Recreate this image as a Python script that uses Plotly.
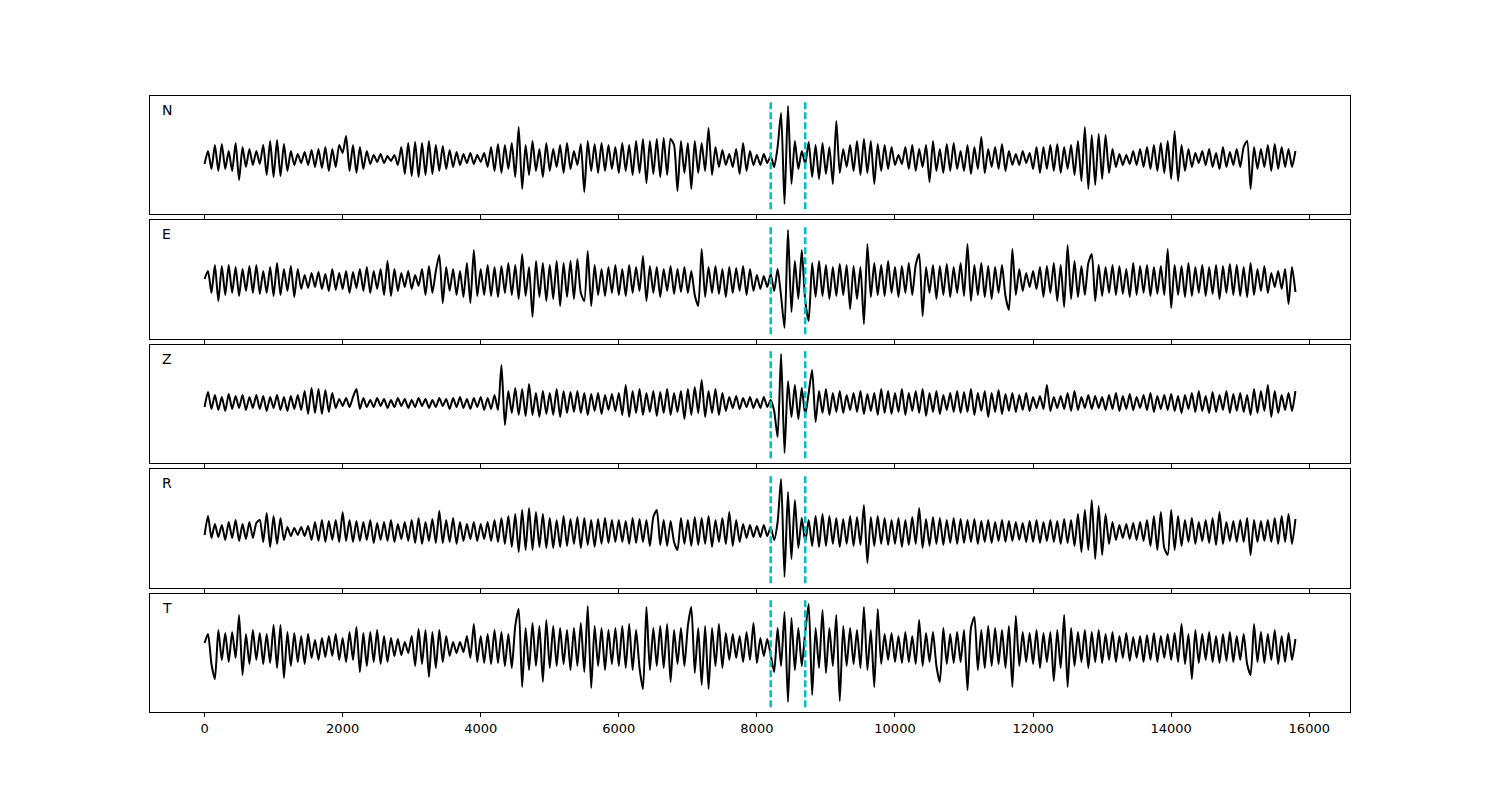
import plotly.graph_objects as go

# Five-component waveform, values (one value every 50 samples).
SAMPLE_STEP = 50
PICKS = [8200, 8700]
COMPONENTS = ["N", "E", "Z", "R", "T"]

N_TRACE = [
    -5, 8, -10, 14, -12, 15, -10, 8, -12, 16, -21, 12, -8, 10, -6, 8, -5, 14, -16, 18,
    -18, 19, -17, 15, -12, 8, -6, 5, -4, 7, -6, 9, -8, 10, -9, 12, -12, 10, -8, 14,
    6, 23, -12, 14, -14, 12, -10, 8, -5, 4, -3, 5, -4, 3, -2, 4, -6, 12, -15, 16,
    -17, 17, -18, 16, -16, 18, -15, 14, -12, 13, -10, 9, -8, 7, -6, 5, -4, 6, -5, 4,
    -3, 6, -8, 12, -12, 15, -14, 14, -10, 16, -18, 32, -30, 14, -16, 18, -12, 10, -18, 16,
    -12, 10, -8, 14, -14, 16, -10, 8, -6, 15, -33, 18, -12, 15, -14, 16, -12, 14, -10, 12,
    -14, 16, -12, 14, -16, 18, -14, 20, -24, 18, -15, 20, -18, 21, -16, 20, 14, -32, 18, -14,
    16, -30, 18, -14, 16, -12, 31, -16, 12, -8, 9, -6, 5, -8, 10, -15, 16, -12, 8, -6,
    4, -6, 5, -4, 3, -8, 12, 46, -45, 53, -25, 18, -10, 8, -5, 17, -18, 14, -20, 16,
    -15, 12, -25, 38, -14, 10, -8, 14, -12, 18, -16, 20, -14, 18, -25, 15, -12, 14, -10, 12,
    -6, 4, -5, 12, -10, 14, -12, 10, -8, 14, -23, 18, -12, 10, -14, 15, -12, 16, -10, 8,
    -12, 14, -15, 12, -10, 22, -14, 10, -8, 12, -10, 15, -12, 8, -6, 5, -6, 8, -4, 6,
    -10, 12, -14, 12, -10, 14, -12, 15, -14, 12, -10, 14, -16, 18, -22, 32, -30, 24, -26, 25,
    -20, 24, -14, 10, -8, 5, -6, 4, -5, 8, -6, 10, -8, 12, -10, 14, -12, 16, -14, 18,
    -20, 28, -22, 14, -12, 10, -8, 6, -4, 8, -6, 10, -8, 6, -10, 12, -8, 7, -6, 10,
    -8, 12, 18, -30, 12, -10, 10, -8, 14, -12, 15, -10, 12, -8, 10, -8, 8,
]

E_TRACE = [
    2, 10, -12, 16, -20, 15, -14, 16, -12, 14, -15, 12, -10, 15, -12, 16, -13, 10, -12, 14,
    -15, 18, -14, 12, -10, 15, -16, 12, -8, 6, -7, 8, -6, 9, -8, 7, -10, 12, -9, 8,
    -8, 10, -12, 9, -7, 12, -10, 14, -12, 10, -8, 12, -14, 20, -15, 12, -10, 8, -6, 10,
    -8, 6, -5, 12, -14, 15, -12, 10, 26, -22, 14, -10, 12, -14, 10, -16, 18, -22, 31, -15,
    12, -14, 16, -15, 14, -16, 15, -12, 18, -14, 16, -18, 27, -15, 14, -36, 20, -16, 18, -20,
    16, -18, 20, -25, 18, -16, 20, -18, 22, -12, -20, 30, -25, 16, -14, 12, -15, 14, -12, 16,
    -14, 12, -15, 16, -12, 14, -10, 25, -20, 15, -12, 14, -16, 12, -10, 15, -13, 12, -11, 14,
    -12, 10, -14, -25, 32, -16, 14, -12, 15, -13, 12, -16, 14, -12, 13, -10, 15, -14, 12, -10,
    6, -8, 5, -6, 7, -10, 12, -15, -47, 51, -31, 20, -18, 31, -20, -40, 18, -16, 20, -15,
    16, -18, 14, -15, 17, -14, 16, -28, 15, -18, 14, -43, 37, -16, 18, -14, 16, -15, 20, -12,
    14, -16, 15, -12, 18, -14, 16, 27, -35, 14, -12, 16, -18, 15, -14, 17, -16, 14, -12, 18,
    -15, 37, -20, 16, -14, 18, -16, 15, -18, 14, -12, 16, -15, -29, 32, -14, 12, -10, 8, -6,
    10, -8, 14, -16, 15, -12, 18, -20, 16, -26, 36, -18, 20, -16, 15, -14, 18, 27, -20, 16,
    -15, 14, -12, 16, -14, 15, -13, 12, -16, 18, -14, 15, -12, 16, -15, 14, -13, 15, -14, 32,
    -27, 16, -14, 15, -16, 18, -15, 14, -12, 16, -15, 14, -13, 16, -18, 15, -12, 17, -14, 16,
    -15, 14, -16, 18, -14, 12, -10, 15, -12, 8, -6, 10, -8, 12, -23, 14, -11,
]

Z_TRACE = [
    -4, 11, -6, 8, -7, 6, -8, 9, -6, 7, -5, 8, -7, 6, -5, 8, -6, 7, -8, 6,
    -5, 8, -7, 6, -8, 7, -6, 8, -7, 12, -11, 15, -10, 14, -11, 13, -9, 10, -5, 4,
    -3, 5, -4, 6, 14, -6, 5, -4, 3, -4, 5, -3, 4, -5, 3, -4, 5, -3, 4, -5,
    3, -4, 5, -3, 4, -5, 3, -4, 5, -3, 4, -6, 5, -4, 6, -5, 4, -6, 5, -4,
    6, -7, 5, -6, 8, -7, 38, -22, 12, -10, 15, -12, 14, -13, 19, -12, 10, -14, 12, -11,
    10, -12, 14, -14, 12, -10, 11, -9, 12, -10, 10, -12, 9, -8, 10, -11, 8, -7, 9, -8,
    10, -12, 18, -14, 12, -10, 14, -12, 10, -9, 12, -13, 11, -10, 14, -12, 10, -9, 12, -16,
    14, -12, 16, -10, 23, -14, 12, -10, 14, -12, 10, -8, 6, -5, 7, -6, 5, -4, 6, -5,
    4, -5, 6, -4, 3, -8, -34, 49, -50, 22, -14, 18, -16, 15, -12, 10, 33, -19, 12, -10,
    14, -12, 10, -9, 12, -10, 8, -7, 10, -9, 12, -11, 9, -8, 10, -12, 14, -10, 12, -11,
    10, -9, 14, -12, 10, -8, 12, -10, 14, -13, 10, -9, 12, -11, 8, -7, 10, -9, 12, -10,
    11, -9, 14, -12, 10, -8, 12, -14, 10, -9, 13, -11, 9, -8, 10, -9, 8, -7, 10, -8,
    6, -5, 7, -6, 18, -8, 6, -5, 7, -6, 10, -8, 12, -7, 6, -5, 8, -6, 7, -5,
    6, -7, 8, -6, 10, -8, 7, -6, 9, -7, 6, -5, 8, -7, 10, -9, 7, -6, 8, -7,
    9, -8, 7, -10, 8, -6, 10, -9, 12, -8, 7, -10, 11, -9, 8, -7, 12, -10, 9, -8,
    10, -9, 8, -12, 14, -10, 12, -8, 18, -14, 12, -10, 8, -7, 10, -8, 12,
]

R_TRACE = [
    -3, 16, -6, 8, -5, 7, -8, 10, -6, 12, -9, 8, -7, 10, -6, 9, 12, -10, 19, -15,
    16, -12, 14, -8, 5, -4, 4, -3, 5, -4, 6, -8, 10, -9, 12, -10, 11, -8, 12, -10,
    20, -9, 12, -10, 11, -9, 10, -8, 12, -11, 9, -8, 10, -9, 12, -10, 8, -7, 10, -9,
    12, -11, 14, -12, 10, -9, 13, -11, 21, -11, 12, -10, 14, -12, 10, -9, 8, -7, 10, -9,
    8, -7, 10, -9, 12, -10, 14, -12, 16, -15, 18, -20, 22, -18, 24, -18, 20, -15, 18, -16,
    14, -16, 12, -15, 16, -14, 13, -12, 15, -16, 14, -13, 12, -15, 13, -12, 14, -11, 12, -10,
    12, -10, 11, -12, 14, -11, 13, -10, 12, -14, 15, 22, -13, 12, -14, 11, -10, -18, 14, -12,
    12, -14, 15, -13, 14, -12, 16, -15, 12, -10, 14, -12, 20, -14, 12, -10, 8, -6, 7, -5,
    6, -5, 7, -4, 5, -8, 10, 53, -45, 40, -27, 32, -16, 14, -10, 12, -14, 16, -15, 18,
    -14, 16, -12, 14, -15, 13, -12, 16, -14, 15, -13, 27, -31, 15, -14, 16, -12, 14, -13, 12,
    -12, 14, -15, 12, -13, 15, -12, 24, -16, 13, -14, 15, -12, 14, -13, 12, -11, 14, -12, 13,
    -11, 12, -10, 13, -12, 11, -10, 12, -11, 10, -9, 12, -10, 11, -9, 10, -8, 9, -10, 11,
    -10, 12, -11, 10, -9, 12, -10, 11, -12, 13, -11, 12, -14, 18, -20, 22, -18, 32, -27, 26,
    -23, 18, -12, 10, -8, 7, -6, 8, -7, 9, -8, 10, -9, 12, -14, 16, -18, 20, -16, -23,
    22, -18, 16, -14, 12, -10, 14, -12, 10, -9, 12, -11, 14, -13, 20, -12, 10, -9, 11, -10,
    12, -10, 14, -23, 12, -10, 11, -9, 12, -10, 14, -12, 16, -10, 18, -12, 13,
]

T_TRACE = [
    5, 14, -16, -31, 18, -12, 15, -14, 16, -10, 33, -27, 14, -16, 18, -12, 15, -16, 14, -15,
    23, -20, 23, -30, 16, -18, 15, -14, 12, -16, 14, -10, 8, -12, 10, -9, 12, -8, 14, -12,
    10, -14, 16, -12, 21, -24, 15, -18, 16, -14, 18, -16, 12, -14, 10, -8, 9, -7, 6, -5,
    12, -18, 19, -16, 18, -29, 16, -20, 18, -14, 12, -8, 6, -5, 6, -4, 12, -10, 24, -14,
    12, -15, 14, -16, 18, -15, 16, -18, 14, -20, 22, 39, -39, 20, -22, 25, -18, 22, -34, 28,
    -20, 22, -18, 20, -16, 18, -22, 20, -18, 25, -24, 42, -40, 22, -18, 20, -22, 18, -16, 20,
    -18, 22, -20, 24, -22, 18, -20, -41, 41, -22, 20, -18, 22, -20, 24, -34, 18, -16, 20, -18,
    22, 41, -25, 20, -37, 22, -41, 20, -18, 24, -20, 15, -12, 14, -10, 12, -14, 16, -12, 25,
    -15, 10, -8, 9, -7, -24, 20, -18, 36, -54, 30, -22, 20, -18, 16, 44, -47, 20, -20, 38,
    -25, 20, -18, 33, -53, 22, -18, 20, -16, 18, -20, 41, -22, 18, -39, 39, -16, 14, -12, 15,
    -14, 12, -15, 16, -14, 12, -16, 28, -18, 15, -14, 16, -18, -34, 20, -16, 14, -15, 16, -14,
    18, -42, 20, 31, -22, 18, -20, 22, -18, 20, -16, 18, -20, 22, -39, 32, -18, 16, -14, 15,
    -16, 18, -20, 15, -14, 16, -33, 18, -20, 33, -39, 20, -18, 16, -14, 18, -20, 16, -14, 18,
    -15, 14, -12, 16, -14, 12, -10, 15, -13, 11, -10, 12, -14, 13, -12, 15, -14, 12, -10, 14,
    -12, 15, -14, 24, -16, 14, -31, 18, -15, 14, -12, 16, -14, 12, -15, 14, -13, 16, -14, 12,
    -12, 14, -16, -27, 24, -14, 16, -15, 14, -12, 18, -16, 12, -14, 15, -12, 9,
]

TRACES = [N_TRACE, E_TRACE, Z_TRACE, R_TRACE, T_TRACE]
# Amplitude window of each panel (bottom, top).
Y_RANGES = [(-55, 63), (-58, 61), (-60, 58), (-56, 63), (-64, 54)]
# Panel rows in paper coordinates, top to bottom.
Y_DOMAINS = [(0.7325, 0.88), (0.57625, 0.725), (0.42125, 0.56875), (0.265, 0.41375), (0.11, 0.2575)]
X_TICKS = [0, 2000, 4000, 6000, 8000, 10000, 12000, 14000, 16000]

FONT = "DejaVu Sans"
PICK_COLOR = "#00bfbf"

fig = go.Figure()
layout = {}
shapes = []
annotations = []

for i, (name, values) in enumerate(zip(COMPONENTS, TRACES)):
    n = i + 1
    suffix = "" if n == 1 else str(n)
    xs = list(range(0, SAMPLE_STEP * len(values), SAMPLE_STEP))
    fig.add_scatter(
        x=xs,
        y=values,
        mode="lines",
        line=dict(color="black", width=2, shape="spline", smoothing=0.6),
        xaxis="x" + suffix,
        yaxis="y" + suffix,
        name=name,
        showlegend=False,
    )

    bottom = n == len(COMPONENTS)
    layout["xaxis" + suffix] = dict(
        domain=[0.1, 0.9],
        anchor="y" + suffix,
        range=[-790, 16590],
        tickvals=X_TICKS,
        ticktext=[str(t) for t in X_TICKS],
        showticklabels=bottom,
        ticks="outside",
        ticklen=4,
        tickwidth=1,
        tickcolor="black",
        showline=True,
        linecolor="black",
        linewidth=1,
        mirror=True,
        showgrid=False,
        zeroline=False,
        tickfont=dict(family=FONT, size=13, color="black"),
    )
    layout["yaxis" + suffix] = dict(
        domain=list(Y_DOMAINS[i]),
        anchor="x" + suffix,
        range=list(Y_RANGES[i]),
        showticklabels=False,
        ticks="",
        showline=True,
        linecolor="black",
        linewidth=1,
        mirror=True,
        showgrid=False,
        zeroline=False,
    )

    for pick in PICKS:
        shapes.append(dict(
            type="line",
            xref="x" + suffix,
            yref="y" + suffix + " domain",
            x0=pick, x1=pick, y0=0.04, y1=0.96,
            line=dict(color=PICK_COLOR, width=2.5, dash="7px,3px"),
        ))

    annotations.append(dict(
        text=name,
        xref="x" + suffix + " domain",
        yref="y" + suffix + " domain",
        x=0.008, y=0.97,
        xanchor="left", yanchor="top",
        showarrow=False,
        font=dict(family=FONT, size=14, color="black"),
    ))

fig.update_layout(
    **layout,
    shapes=shapes,
    annotations=annotations,
    width=1500,
    height=800,
    margin=dict(l=0, r=0, t=0, b=0),
    paper_bgcolor="white",
    plot_bgcolor="white",
    font=dict(family=FONT, size=13, color="black"),
)

# Drop the browser's default page margin so the figure sits at the window origin.
fig.write_html(
    "out.html",
    config={"displayModeBar": False},
    post_script="document.body.style.margin = '0px';",
)
